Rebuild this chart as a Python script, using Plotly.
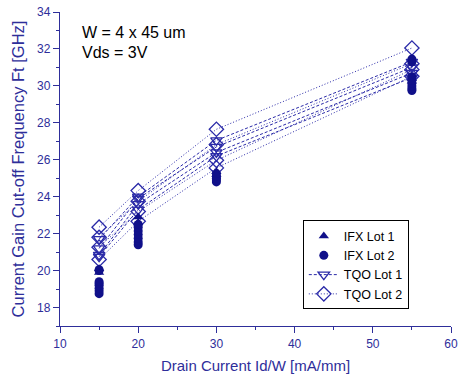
import plotly.graph_objects as go

x_vals = [15, 20, 30, 55]

# IFX Lot 2 (filled circles) - markers only
ifx2_x = [15]*8 + [20]*7 + [30]*5 + [55]*8
ifx2_y = [18.75, 18.9, 19.05, 19.2, 19.3, 19.4, 20.0, 20.05,
          21.4, 21.55, 21.75, 21.95, 22.15, 22.35, 22.5,
          24.8, 24.9, 25.0, 25.1, 25.25,
          29.75, 29.85, 30.0, 30.15, 30.3, 30.5, 31.3, 31.45]

# IFX Lot 1 (filled up-triangles) - markers only
ifx1_x = [15, 15, 20, 20, 30, 30, 55, 55]
ifx1_y = [20.1, 19.9, 22.9, 22.6, 25.35, 25.2, 30.4, 30.25]

# TQO Lot 1 (open down-triangles, dashed)
tqo1 = [
    [21.7, 24.0, 27.05, 31.3],
    [21.2, 23.9, 26.7, 31.0],
    [20.85, 23.6, 26.4, 30.7],
    [20.75, 23.3, 26.2, 30.45],
]

# TQO Lot 2 (open diamonds, dotted)
tqo2 = [
    [22.35, 24.33, 27.65, 32.05],
    [21.8, 23.75, 26.82, 31.2],
    [21.27, 23.2, 25.97, 30.88],
    [20.6, 22.67, 25.56, 30.52],
]

navy = "#10108a"
line_col = "#2a2aa8"
axis_col = "#2e2e9a"

fig = go.Figure()

for i, ys in enumerate(tqo2):
    fig.add_trace(go.Scatter(
        x=x_vals, y=ys, mode="lines+markers", name="TQO Lot 2",
        legendgroup="tqo2", showlegend=(i == 0), legendrank=4,
        line=dict(color=line_col, width=1, dash="1px,2px"),
        marker=dict(symbol="diamond-open", size=11, color=line_col, line=dict(width=1.3)),
    ))

for i, ys in enumerate(tqo1):
    fig.add_trace(go.Scatter(
        x=x_vals, y=ys, mode="lines+markers", name="TQO Lot 1",
        legendgroup="tqo1", showlegend=(i == 0), legendrank=3,
        line=dict(color=line_col, width=1, dash="3px,2px"),
        marker=dict(symbol="triangle-down-open", size=10, color=line_col, line=dict(width=1.3)),
    ))

fig.add_trace(go.Scatter(
    x=ifx2_x, y=ifx2_y, mode="markers", name="IFX Lot 2", legendrank=2,
    marker=dict(symbol="circle", size=9, color=navy),
))
fig.add_trace(go.Scatter(
    x=ifx1_x, y=ifx1_y, mode="markers", name="IFX Lot 1", legendrank=1,
    marker=dict(symbol="triangle-up", size=9, color=navy),
))

fig.add_annotation(text="W = 4 x 45 um", xref="paper", yref="paper",
                   x=0.05, y=0.935, xanchor="left", yanchor="middle", showarrow=False,
                   font=dict(size=16, color="black"))
fig.add_annotation(text="Vds = 3V", xref="paper", yref="paper",
                   x=0.05, y=0.87, xanchor="left", yanchor="middle", showarrow=False,
                   font=dict(size=16, color="black"))

fig.update_layout(
    width=459, height=375,
    margin=dict(l=60, r=8, t=12, b=49),
    paper_bgcolor="white", plot_bgcolor="white",
    font=dict(family="Liberation Sans, Arial, sans-serif", size=12, color=axis_col),
    legend=dict(x=0.621, y=0.336, xanchor="left", yanchor="top",
                bgcolor="white", bordercolor="black", borderwidth=1,
                font=dict(size=12.5, color="black"), tracegroupgap=0,
                itemwidth=30),
    xaxis=dict(range=[10, 60], tickvals=[10, 20, 30, 40, 50, 60], automargin=False,
               showline=True, linecolor=axis_col, linewidth=1.3,
               ticks="outside", ticklen=6, tickcolor=axis_col, tickwidth=1.3,
               minor=dict(tickvals=[15, 25, 35, 45, 55], ticks="outside", ticklen=3, tickcolor=axis_col),
               showgrid=False, zeroline=False,
               title=dict(text="Drain Current Id/W [mA/mm]", font=dict(size=15, color=axis_col), standoff=10),
               tickfont=dict(size=12, color=axis_col)),
    yaxis=dict(range=[17, 34], tickvals=[18, 20, 22, 24, 26, 28, 30, 32, 34], automargin=False,
               showline=True, linecolor=axis_col, linewidth=1.3,
               ticks="outside", ticklen=6, tickcolor=axis_col, tickwidth=1.3,
               minor=dict(tickvals=[17, 19, 21, 23, 25, 27, 29, 31, 33], ticks="outside", ticklen=3, tickcolor=axis_col),
               showgrid=False, zeroline=False,
               title=dict(text="Current Gain Cut-off Frequency Ft [GHz]", font=dict(size=16.5, color=axis_col), standoff=8),
               tickfont=dict(size=12, color=axis_col)),
)

fig.write_html("out.html", config={"displayModeBar": False},
               post_script="document.body.style.margin='0';document.body.style.overflow='hidden';")
